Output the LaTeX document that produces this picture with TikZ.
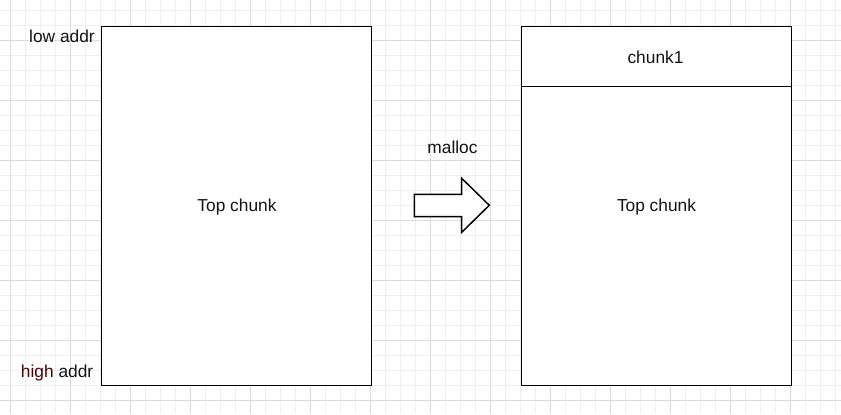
\documentclass[tikz,border=0pt]{standalone}
\usepackage{fontspec}
\setmainfont{Liberation Sans}
\begin{document}
\begin{tikzpicture}[x=0.75pt,y=-0.75pt,
  minorgrid/.style={draw=black!6,line width=0.75pt},
  majorgrid/.style={draw=black!14,line width=0.75pt},
  block/.style={draw=black,line width=1.1pt,fill=white},
  lbl/.style={font=\fontsize{13pt}{15pt}\selectfont,text=black!92,inner sep=0pt}]
\useasboundingbox (0,0) rectangle (841,414);
\fill[white] (0,0) rectangle (841,414);
% grid
\foreach \i in {0,...,55} {\draw[minorgrid] (10+15*\i,0) -- (10+15*\i,414);}
\foreach \i in {-1,...,27} {\draw[minorgrid] (0,10+15*\i) -- (841,10+15*\i);}
\foreach \i in {0,...,13} {\draw[majorgrid] (10+60*\i,0) -- (10+60*\i,414);}
\foreach \i in {-1,...,6} {\draw[majorgrid] (0,40+60*\i) -- (841,40+60*\i);}
% left block
\draw[block] (101.5,26.5) rectangle (371.5,385.5);
\node[lbl] (topL) at (237,207) {Top chunk};
\node[lbl,anchor=east] (low) at (95,36) {low addr};
\node[lbl,anchor=east] (high) at (93.5,373) {\textcolor[HTML]{4A0000}{high} addr};
% right block
\draw[block] (521.5,26.5) rectangle (791.5,385.5);
\draw[block] (521.5,26.5) rectangle (791.5,86.5);
\node[lbl] (chunk1) at (655.5,57) {chunk1};
\node[lbl] (topR) at (656.5,207) {Top chunk};
% arrow
\node[lbl] (malloc) at (452.5,147) {malloc};
\draw[block,line join=miter] (414.3,194.3) -- (461.7,194.3) -- (461.7,178.3) -- (489.3,205.3)
  -- (461.7,232.3) -- (461.7,216.7) -- (414.3,216.7) -- cycle;
\end{tikzpicture}
\end{document}
